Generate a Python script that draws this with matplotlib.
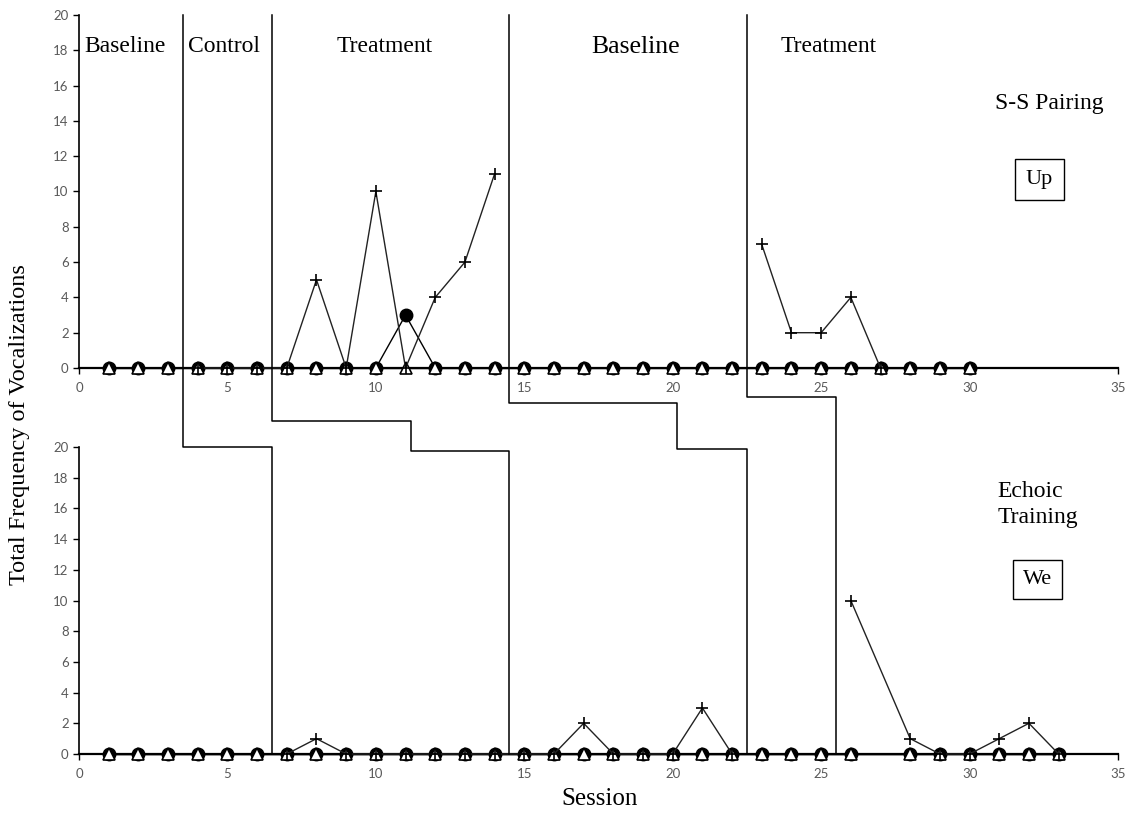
import numpy as np
import matplotlib
matplotlib.use('Agg')
from matplotlib import pyplot as plt
from matplotlib.lines import Line2D

nan = np.nan

# ---- data: top panel (S-S Pairing, "Up") ----
top_sessions = np.arange(1, 31)
top_circle = [0] * 30
top_circle[10] = 3          # session 11
top_triangle = [0] * 30
top_plus = [nan, nan, nan, 0, 0, 0, 0, 5, 0, 10, 0, 4, 6, 11,
            nan, nan, nan, nan, nan, nan, nan, nan,
            7, 2, 2, 4, 0, nan, nan, nan]

# ---- data: bottom panel (Echoic Training, "We"), no session 27 ----
bot_sessions = list(range(1, 27)) + list(range(28, 34))
bot_circle = [0] * 32
bot_triangle = [0] * 32
bot_plus = [nan, nan, nan, nan, nan, nan, 0, 1, 0, 0, 0, 0, 0, 0,
            0, 0, 2, 0, 0, 0, 3, 0,
            nan, nan, nan, 10, 1, 0, 0, 1, 2, 0]

# phase change lines
top_phase_x = [3.5, 6.5, 14.5, 22.5]
bot_phase_x = [6.5, 14.5, 22.5, 25.5]
step_x = [None, 11.2, 20.15, None]

top_phase_labels = [('Baseline', 1.55, 17), ('Control', 4.9, 17), ('Treatment', 10.3, 17),
                    ('Baseline', 18.75, 18.5), ('Treatment', 25.25, 17)]

xticks = np.arange(0, 36, 5)
yticks = np.arange(0, 21, 2)

serif = 'Liberation Serif'
tick_col = '#595959'

W, H = 1131, 817
fig = plt.figure(figsize=(W / 100, H / 100), dpi=100)


def make_axes(top_px, bottom_px):
    left = 79 / W
    width = (1118 - 79) / W
    return fig.add_axes([left, 1 - bottom_px / H, width, (bottom_px - top_px) / H])


ax_top = make_axes(15, 368)
ax_bot = make_axes(447, 754)


def style(ax):
    ax.set_xlim(0, 35)
    ax.set_ylim(0, 20)
    ax.set_xticks(xticks)
    ax.set_yticks(yticks)
    for s in ['top', 'right']:
        ax.spines[s].set_visible(False)
    ax.spines['left'].set_linewidth(1.2)
    ax.spines['bottom'].set_linewidth(1.6)
    ax.tick_params(axis='both', direction='out', length=4, width=1, colors='black',
                   labelcolor=tick_col, labelsize=9.5)
    ax.tick_params(axis='x', pad=6)
    for lbl in ax.get_xticklabels() + ax.get_yticklabels():
        lbl.set_fontfamily('Lato')
    ax.patch.set_alpha(0)


def plot_series(ax, x, circ, tri, plus):
    ax.plot(x, circ, color='black', lw=1, marker='o', ms=9, mfc='black', mec='black',
            clip_on=False, zorder=3)
    ax.plot(x, tri, color='black', lw=1, marker='^', ms=8.5, mfc='white', mec='black',
            mew=1.2, clip_on=False, zorder=4)
    ax.plot(x, plus, color='#222222', lw=1, marker='+', ms=8, mec='black', mew=1.2,
            clip_on=False, zorder=5)


style(ax_top)
style(ax_bot)
plot_series(ax_top, top_sessions, top_circle, top_triangle, top_plus)
plot_series(ax_bot, bot_sessions, bot_circle, bot_triangle, bot_plus)

# phase labels
for txt, xp, fs in top_phase_labels:
    ax_top.text(xp, 18.2, txt, ha='center', va='center', fontsize=fs, family=serif)

ax_top.text(32.7, 15.0, 'S-S Pairing', ha='center', va='center', fontsize=17, family=serif)
ax_top.text(32.35, 10.7, 'Up', ha='center', va='center', fontsize=16, family=serif,
            bbox=dict(boxstyle='square,pad=0.5', fc='white', ec='black', lw=1))
ax_bot.text(30.95, 16.25, 'Echoic\nTraining', ha='left', va='center', fontsize=17,
            family=serif, linespacing=1.35)
ax_bot.text(32.3, 11.4, 'We', ha='center', va='center', fontsize=16, family=serif,
            bbox=dict(boxstyle='square,pad=0.45', fc='white', ec='black', lw=1))

fig.text(20 / W, 1 - 425 / H, 'Total Frequency of Vocalizations', rotation=90,
         ha='center', va='center', fontsize=17.5, family=serif)
fig.text(600 / W, 1 - 799 / H, 'Session', ha='center', va='center', fontsize=18,
         family=serif)


# staircase phase lines spanning both panels
def to_fig(ax, x, y):
    return fig.transFigure.inverted().transform(ax.transData.transform((x, y)))


top_drop = [None, -3.0, -2.0, -1.65]
bot_level = [20, 19.75, 19.9, None]
for i in range(4):
    xt, xb = top_phase_x[i], bot_phase_x[i]
    if i == 0:
        pts = [to_fig(ax_top, xt, 20), to_fig(ax_bot, xt, bot_level[i]),
               to_fig(ax_bot, xb, bot_level[i]), to_fig(ax_bot, xb, 0)]
    elif i == 3:
        pts = [to_fig(ax_top, xt, 20), to_fig(ax_top, xt, top_drop[i]),
               to_fig(ax_top, xb, top_drop[i]), to_fig(ax_bot, xb, 0)]
    else:
        sx = step_x[i]
        pts = [to_fig(ax_top, xt, 20), to_fig(ax_top, xt, top_drop[i]),
               to_fig(ax_top, sx, top_drop[i]), to_fig(ax_bot, sx, bot_level[i]),
               to_fig(ax_bot, xb, bot_level[i]), to_fig(ax_bot, xb, 0)]
    pts = np.array(pts)
    fig.add_artist(Line2D(pts[:, 0], pts[:, 1], color='black', lw=1.1,
                          transform=fig.transFigure, zorder=2))

plt.savefig('out.png', dpi=100)
